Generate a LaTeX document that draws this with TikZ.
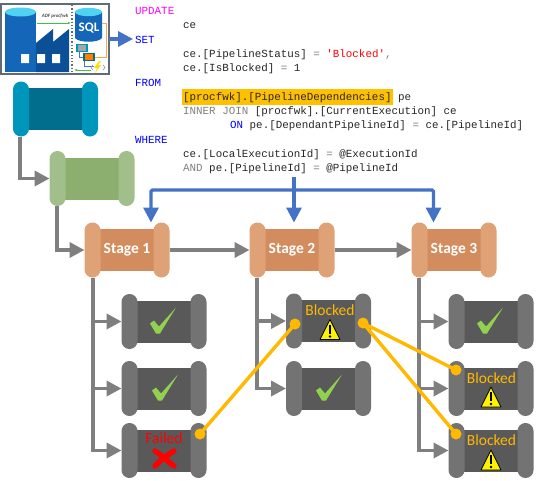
\documentclass[tikz,border=0pt]{standalone}
\usepackage{fontspec}
\setmainfont{Carlito}
\newfontfamily\codefont{Liberation Mono}
\usetikzlibrary{arrows.meta,calc}
\definecolor{kwblue}{HTML}{0000FF}
\definecolor{kwmag}{HTML}{FF00FF}
\definecolor{kwgray}{HTML}{808080}
\definecolor{flowgray}{HTML}{7F7F7F}
\definecolor{flowblue}{HTML}{4472C4}
\definecolor{linkamber}{HTML}{FFB900}
\definecolor{hilite}{HTML}{FFC000}
\definecolor{darkbody}{HTML}{595959}
\definecolor{darkcap}{HTML}{737373}
\definecolor{tealbody}{HTML}{006E8C}
\definecolor{tealcap}{HTML}{0096BC}
\definecolor{greenbody}{HTML}{8CAE6E}
\definecolor{greencap}{HTML}{A0BF8A}
\definecolor{orangebody}{HTML}{D38C5E}
\definecolor{orangecap}{HTML}{DFA176}
\definecolor{checkgreen}{HTML}{92D050}
\definecolor{azdark}{HTML}{0B4F96}
\definecolor{azmid}{HTML}{1467B8}
\definecolor{azlight}{HTML}{4FD3F0}
\definecolor{frameslate}{HTML}{5F6B7A}
\tikzset{
  pipebox/.style={minimum width=85pt,minimum height=55pt,inner sep=0pt,outer sep=0pt},
  flow/.style={draw=flowgray,line width=3.6pt,-{Triangle[length=15pt,width=15pt]}},
  blueflow/.style={draw=flowblue,line width=3.2pt,-{Triangle[length=15pt,width=15pt]}},
  link/.style={draw=linkamber,line width=3.4pt},
  linkdot/.style={circle,fill=linkamber,minimum size=11pt,inner sep=0pt},
  code/.style={font=\codefont\fontsize{10.85}{12}\selectfont,anchor=base west,inner sep=0pt,text=black!85},
  stagelabel/.style={font=\bfseries\fontsize{15.5}{16}\selectfont,text=white},
  statlabel/.style={font=\fontsize{15.5}{16}\selectfont},
}
% #1 name, #2 centre, #3 body colour, #4 cap colour
\newcommand{\pipeline}[4]{
  \node[pipebox] (#1) at (#2) {};
  \fill[#3] ($(#1.center)+(-30,-21)$) rectangle ($(#1.center)+(30,21)$);
  \fill[#4,rounded corners=7.9pt] ($(#1.west)+(0,-27.5)$) rectangle ($(#1.west)+(16,27.5)$);
  \fill[#4,rounded corners=7.9pt] ($(#1.east)+(-16,-27.5)$) rectangle ($(#1.east)+(0,27.5)$);
}
\newcommand{\okmark}[1]{
  \fill[checkgreen] ($(#1)+(-14,2)$) -- ($(#1)+(-10,-1)$) -- ($(#1)+(-5,5)$) -- ($(#1)+(12,-14)$) -- ($(#1)+(-4,12)$) -- ($(#1)+(-8,12)$) -- cycle;
}
\newcommand{\warnsign}[1]{
  \path[draw=black,fill=yellow,line width=.7pt,line join=round] ($(#1)+(0,-10)$) -- ($(#1)+(10,10)$) -- ($(#1)+(-10,10)$) -- cycle;
  \fill[black] ($(#1)+(-1.3,-5)$) rectangle ($(#1)+(1.3,4)$);
  \fill[black] ($(#1)+(0,7)$) circle (1.4);
}
\begin{document}
\begin{tikzpicture}[x=1pt,y=-1pt]
\useasboundingbox (0,0) rectangle (536,480);
\fill[white] (0,0) rectangle (536,480);

% logo
\node[minimum width=108pt,minimum height=70pt,inner sep=0pt,outer sep=0pt,draw=frameslate,line width=1.4pt] (logo) at (55,39) {};
\fill[azmid] (5,12) rectangle (36,72);
\fill[azdark] (36,43) -- (53,29) -- (53,42) -- (69,29) -- (69,72) -- (36,72) -- cycle;
\fill[azlight] (20.5,12) ellipse (15.5 and 4.5);
\fill[white] (21,54) rectangle (29,63) (37,54) rectangle (45,63) (52,54) rectangle (60,63);
\draw[frameslate,line width=1.3pt,dotted] (72,5) -- (72,73);
\fill[azmid] (75,12) -- (102,12) -- (102,38) .. controls (98,43) and (79,43) .. (75,38) -- cycle;
\fill[azlight] (88.5,12) ellipse (13.5 and 4.2);
\node[font=\bfseries\fontsize{13}{14}\selectfont,text=white,inner sep=0pt] (sqltext) at (89,28) {SQL};
\node[font=\itshape\bfseries\fontsize{5}{6}\selectfont,text=black!70,inner sep=0pt] (adftext) at (55,16) {ADF procfwk};
\draw[green!50!gray,line width=.8pt,-{Latex[length=3pt]}] (37,23) -- (71,23);
\draw[orange!70,line width=1pt] (102,23) -- (106,23) -- (106,57) -- (95,57);
\draw[flowblue,line width=.7pt] (79,52) |- (84,57) (84,60) |- (94,66);
\fill[tealcap] (76,44) rectangle (88,52);
\fill[gray!70] (78,45) rectangle (86,51);
\fill[tealbody] (83,53) rectangle (95,61);
\fill[orange] (85,54) rectangle (93,60);
\fill[yellow!80!orange] (99,61) -- (94,68) -- (97,68) -- (95,73) -- (101,65) -- (98,65) -- (101,61) -- cycle;
\draw[flowblue!70,line width=.6pt] (93,65) -- (91,67.5) -- (93,70) (103,65) -- (105,67.5) -- (103,70);
\draw[green!50!gray,line width=.8pt,{Latex[length=3pt]}-] (74,70) -- (91,70);

% code
\fill[hilite] (182,89) rectangle (393,105);
\node[code,text=kwmag] (c1) at (135,14.5) {UPDATE};
\node[code] (c2) at (183,28.5) {ce};
\node[code,text=kwblue] (c3) at (135,43) {SET};
\node[code] (c4) at (183,57.5) {ce.[PipelineStatus] \textcolor{kwgray}{=} \textcolor{red}{'Blocked'}\textcolor{kwgray}{,}};
\node[code] (c5) at (183,71.5) {ce.[IsBlocked] \textcolor{kwgray}{=} 1};
\node[code,text=kwblue] (c6) at (135,86) {FROM};
\node[code] (c7) at (183,100.5) {[procfwk].[PipelineDependencies] pe};
\node[code] (c8) at (183,114.5) {\textcolor{kwgray}{INNER JOIN} [procfwk].[CurrentExecution] ce};
\node[code] (c9) at (230,128.5) {\textcolor{kwblue}{ON} pe.[DependantPipelineId] \textcolor{kwgray}{=} ce.[PipelineId]};
\node[code,text=kwblue] (c10) at (135,143.5) {WHERE};
\node[code] (c11) at (183,157.5) {ce.[LocalExecutionId] \textcolor{kwgray}{=} @ExecutionId};
\node[code] (c12) at (183,171.5) {\textcolor{kwgray}{AND} pe.[PipelineId] \textcolor{kwgray}{=} @PipelineId};

% pipelines
\pipeline{teal}{55.5,109}{tealbody}{tealcap}
\pipeline{green}{92,178.5}{greenbody}{greencap}
\pipeline{st1}{127,250}{orangebody}{orangecap}
\pipeline{st2}{292,250}{orangebody}{orangecap}
\pipeline{st3}{454,250}{orangebody}{orangecap}
\pipeline{a1}{164,321.5}{darkbody}{darkcap}
\pipeline{a2}{164,388.5}{darkbody}{darkcap}
\pipeline{a3}{164,450.5}{darkbody}{darkcap}
\pipeline{b1}{328.5,321}{darkbody}{darkcap}
\pipeline{b2}{328.5,388.5}{darkbody}{darkcap}
\pipeline{c1p}{491,321.5}{darkbody}{darkcap}
\pipeline{c2p}{491,388.5}{darkbody}{darkcap}
\pipeline{c3p}{491,450.5}{darkbody}{darkcap}

\node[stagelabel] (s1t) at (st1) {Stage 1};
\node[stagelabel] (s2t) at (st2) {Stage 2};
\node[stagelabel] (s3t) at (st3) {Stage 3};

% grey flow
\draw[flow] ([xshift=-35.5pt]teal.south) |- (green.west);
\draw[flow] ([xshift=-35pt]green.south) |- (st1.west);
\draw[flow] (st1.east) -- (st2.west);
\draw[flow] (st2.east) -- (st3.west);
\draw[flow] ([xshift=-34pt]st1.south) |- (a1.west);
\draw[flow] ([xshift=-34pt]st1.south) |- (a2.west);
\draw[flow] ([xshift=-34pt]st1.south) |- (a3.west);
\draw[flow] ([xshift=-35pt]st2.south) |- (b1.west);
\draw[flow] ([xshift=-35pt]st2.south) |- (b2.west);
\draw[flow] ([xshift=-35pt]st3.south) |- (c1p.west);
\draw[flow] ([xshift=-35pt]st3.south) |- (c2p.west);
\draw[flow] ([xshift=-35pt]st3.south) |- (c3p.west);

% blue flow
\coordinate (bluetop) at (294,177);
\coordinate (bluebar) at (294,190);
\draw[blueflow,shorten >=2pt] (logo.east) -- (c3.west |- logo.east);
\draw[blueflow] (bluetop) -- ([xshift=2pt]st2.north);
\draw[blueflow,rounded corners=1.5pt] (bluebar) -| ([xshift=24pt]st1.north);
\draw[blueflow,rounded corners=1.5pt] (bluebar) -| ([xshift=-20.5pt]st3.north);

% marks
\okmark{a1}
\coordinate (a2m) at (166,388.5);
\okmark{a2m}
\coordinate (b2m) at (330,388.5);
\okmark{b2m}
\okmark{c1p}

\node[statlabel,text=red] (ft) at (164,438) {Failed};
\draw[red,line width=5.4pt,line cap=round] (155,451) .. controls (162,455) and (168,462) .. (174,466);
\draw[red,line width=5.4pt,line cap=round] (174,451) .. controls (168,454) and (160,461) .. (155,466);

\node[statlabel,text=linkamber] (bt1) at (330,310) {Blocked};
\coordinate (w1) at (330,329.5);
\warnsign{w1}
\node[statlabel,text=linkamber] (bt2) at (491.5,378) {Blocked};
\coordinate (w2) at (491,397);
\warnsign{w2}
\node[statlabel,text=linkamber] (bt3) at (491.5,440) {Blocked};
\coordinate (w3) at (491,460);
\warnsign{w3}

% amber links
\node[linkdot] (d1) at (200,434) {};
\node[linkdot] (d2) at (295,324) {};
\node[linkdot] (d3) at (363,323) {};
\node[linkdot] (d4) at (456,370) {};
\node[linkdot] (d5) at (456,434) {};
\draw[link] (d1.center) -- (d2.center);
\draw[link] (d3.center) -- (d4.center);
\draw[link] (d3.center) -- (d5.center);
\end{tikzpicture}
\end{document}
